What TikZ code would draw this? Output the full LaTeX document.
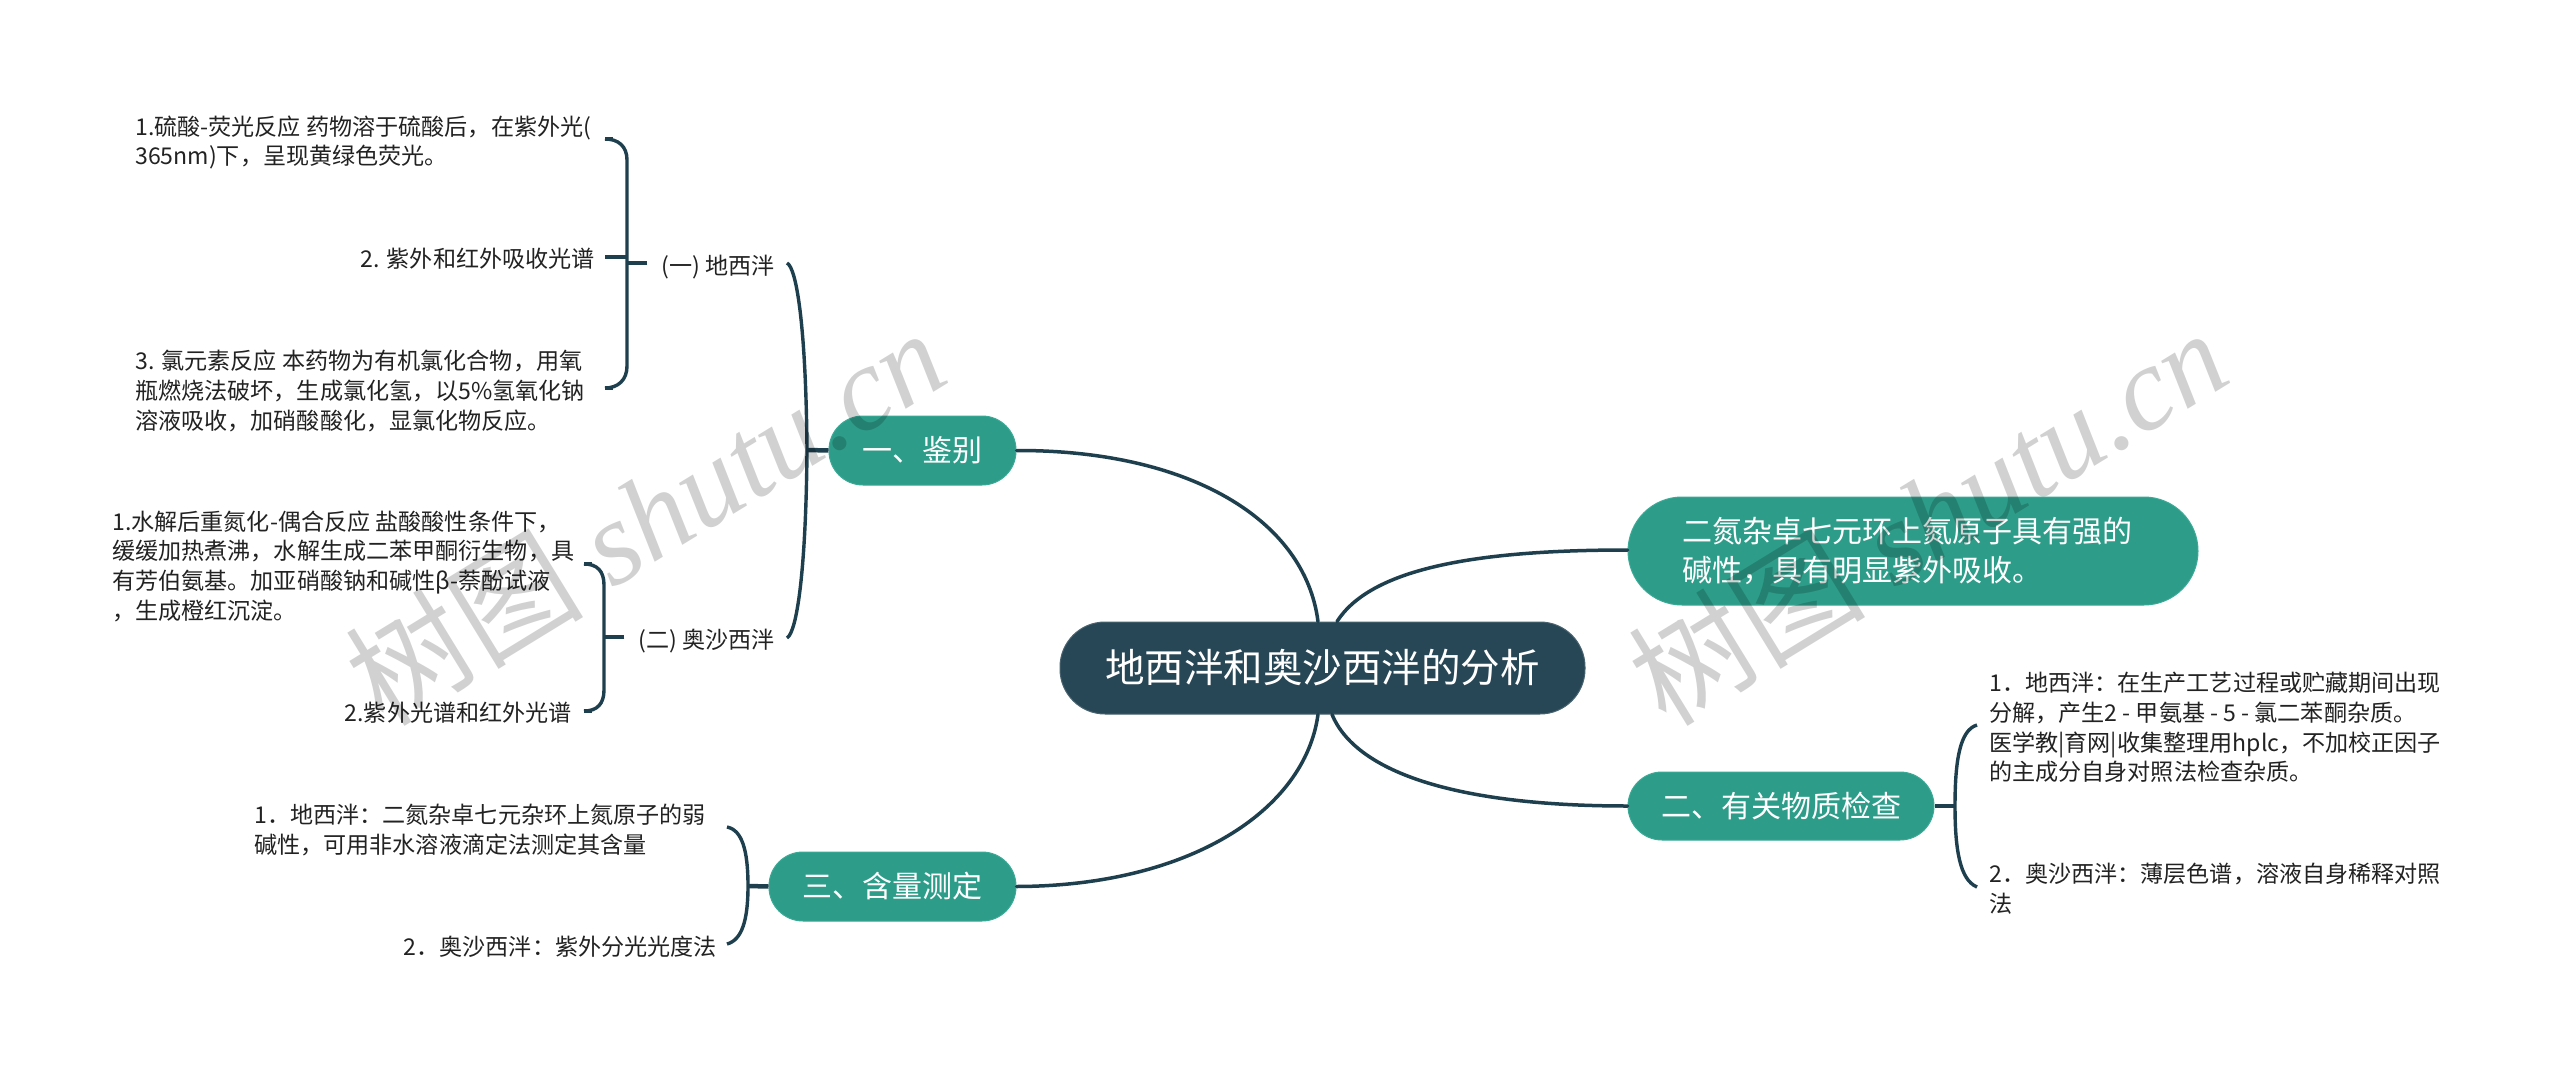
\documentclass[tikz,border=0pt]{standalone}
\usepackage{fontspec}
\setmainfont{Noto Sans CJK SC}
\newfontfamily\wmcjk{Noto Sans CJK SC}
\newfontfamily\wmlat{Liberation Serif}
\usetikzlibrary{calc}
\definecolor{teal1}{HTML}{2D9D8A}
\definecolor{teal2}{HTML}{3AAA97}
\definecolor{navy1}{HTML}{284756}
\definecolor{line1}{HTML}{1E3F4E}
\definecolor{txt1}{HTML}{222222}
\tikzset{
  x=1pt,y=-1pt,
  rootbox/.style={fill=navy1,draw=navy1!85!white,line width=1pt,text=white,rounded corners=45pt,inner sep=0pt,minimum width=525pt,minimum height=92pt,font=\fontsize{39.5}{48}\selectfont},
  branch/.style={fill=teal1,draw=teal2,line width=1pt,text=white,rounded corners=34pt,inner sep=0pt,font=\fontsize{30}{39}\selectfont},
  leaf/.style={text=txt1,inner sep=0pt,align=left,font=\fontsize{23.1}{29.7}\selectfont},
  leafr/.style={text=txt1,inner sep=0pt,align=right,font=\fontsize{23.1}{29.7}\selectfont},
  link/.style={draw=line1,line width=3.5pt,line cap=round},
  stub/.style={draw=line1,line width=4.5pt},
  brace/.style={draw=line1,line width=3.4pt},
  wm/.style={text=black,text opacity=0.18,inner sep=0pt,rotate=31.5,font=\fontsize{119}{119}\selectfont}
}
\begin{document}
\begin{tikzpicture}
\useasboundingbox (0,0) rectangle (2560,1070);
\fill[white] (0,0) rectangle (2560,1070);

% main nodes
\node[rootbox] (ctr) at (1322.5,668) {地西泮和奥沙西泮的分析};
\node[branch,minimum width=187pt,minimum height=69pt] (n1) at (922.5,450.5) {一、鉴别};
\node[branch,minimum width=247pt,minimum height=69pt] (n3) at (892.5,886.5) {三、含量测定};
\node[branch,minimum width=306pt,minimum height=68pt] (n2) at (1781,806) {二、有关物质检查};
\node[branch,rounded corners=54pt,minimum width=570pt,minimum height=108pt,align=left,text width=462pt] (n4) at (1913,551) {二氮杂卓七元环上氮原子具有强的\\碱性，具有明显紫外吸收。};

% second level
\node[leafr,anchor=east] (s1) at (775,267) {(一) 地西泮};
\node[leafr,anchor=east] (s2) at (775,641) {(二) 奥沙西泮};

% leaves
\node[leaf,anchor=west] (a1) at (135,142.5) {1.硫酸-荧光反应 药物溶于硫酸后，在紫外光(\\365nm)下，呈现黄绿色荧光。};
\node[leafr,anchor=east] (a2) at (595,258.5) {2. 紫外和红外吸收光谱};
\node[leaf,anchor=west] (a3) at (135,391) {3. 氯元素反应 本药物为有机氯化合物，用氧\\瓶燃烧法破坏，生成氯化氢，以5\%氢氧化钠\\溶液吸收，加硝酸酸化，显氯化物反应。};
\node[leaf,anchor=west] (b1) at (112,566) {1.水解后重氮化-偶合反应 盐酸酸性条件下，\\缓缓加热煮沸，水解生成二苯甲酮衍生物，具\\有芳伯氨基。加亚硝酸钠和碱性β-萘酚试液\\，生成橙红沉淀。};
\node[leafr,anchor=east] (b2) at (572,713) {2.紫外光谱和红外光谱};
\node[leaf,anchor=west] (c1) at (254,830) {1．地西泮：二氮杂卓七元杂环上氮原子的弱\\碱性，可用非水溶液滴定法测定其含量};
\node[leafr,anchor=east] (c2) at (717,947) {2．奥沙西泮：紫外分光光度法};
\node[leaf,anchor=west] (d1) at (1989,727.5) {1．地西泮：在生产工艺过程或贮藏期间出现\\分解，产生2 - 甲氨基 - 5 - 氯二苯酮杂质。\\医学教|育网|收集整理用hplc，不加校正因子\\的主成分自身对照法检查杂质。};
\node[leaf,anchor=west] (d2) at (1989,888.5) {2．奥沙西泮：薄层色谱，溶液自身稀释对照\\法};

% bracket coordinates
\coordinate (j1) at (807,450);
\coordinate (e1a) at (787,263);
\coordinate (e1b) at (787,638);
\coordinate (j2) at (627,263);
\coordinate (e2a) at (605,139);
\coordinate (e2m) at (605,257);
\coordinate (e2b) at (605,388);
\coordinate (j3) at (604,637);
\coordinate (e3a) at (584,564);
\coordinate (e3b) at (584,711);
\coordinate (j4) at (748,886);
\coordinate (e4a) at (727,827);
\coordinate (e4b) at (727,944);
\coordinate (j5) at (1955,806);
\coordinate (e5a) at (1977,725);
\coordinate (e5b) at (1977,887);

% root links
\draw[link] ([xshift=-4.5pt]ctr.north) .. controls (1305,520) and (1190,450) .. (n1.east);
\draw[link] ([xshift=14.5pt]ctr.north) .. controls (1370,570) and (1470,550) .. (n4.west |- 1628,550);
\draw[link] ([xshift=9.5pt]ctr.south) .. controls (1355,770) and (1450,806) .. (n2.west);
\draw[link] ([xshift=-4.5pt]ctr.south) .. controls (1305,810) and (1190,886) .. (n3.east);

% bracket n1
\draw[stub] (n1.west) -- (j1);
\draw[brace] (e1a) .. controls (797,268) and (806,330) .. (j1) .. controls (806,570) and (797,632) .. (e1b);
% bracket s1
\draw[stub] (s1.west) ++(-14,-4) coordinate (t1) -- (j2);
\draw[brace] (e2a) .. controls (618,139) and (627,146) .. (627,160) -- (j2) -- (627,366) .. controls (627,380) and (618,388) .. (e2b);
\draw[stub] (e2a) -- ++(8,0);
\draw[stub] (e2m) -- (j2 |- e2m);
\draw[stub] (e2b) -- ++(8,0);
% bracket s2
\draw[stub] (s2.west) ++(-14,-4) coordinate (t2) -- (j3);
\draw[brace] (e3a) .. controls (597,564) and (604,571) .. (604,585) -- (j3) -- (604,690) .. controls (604,704) and (597,711) .. (e3b);
\draw[stub] (e3a) -- ++(8,0);
\draw[stub] (e3b) -- ++(8,0);
% bracket n3
\draw[stub] (n3.west) -- (j4);
\draw[brace] (e4a) .. controls (742,830) and (748,850) .. (j4) .. controls (748,920) and (742,940) .. (e4b);
% bracket n2
\draw[stub] (n2.east) -- (j5);
\draw[brace] (e5a) .. controls (1960,730) and (1955,760) .. (j5) .. controls (1955,850) and (1960,880) .. (e5b);

% watermarks
\node[wm] (w1) at (645,516) {{\wmcjk 树图}{\wmlat\itshape\ shutu.cn}};
\node[wm] (w2) at (1927,516) {{\wmcjk 树图}{\wmlat\itshape\ shutu.cn}};
\end{tikzpicture}
\end{document}
